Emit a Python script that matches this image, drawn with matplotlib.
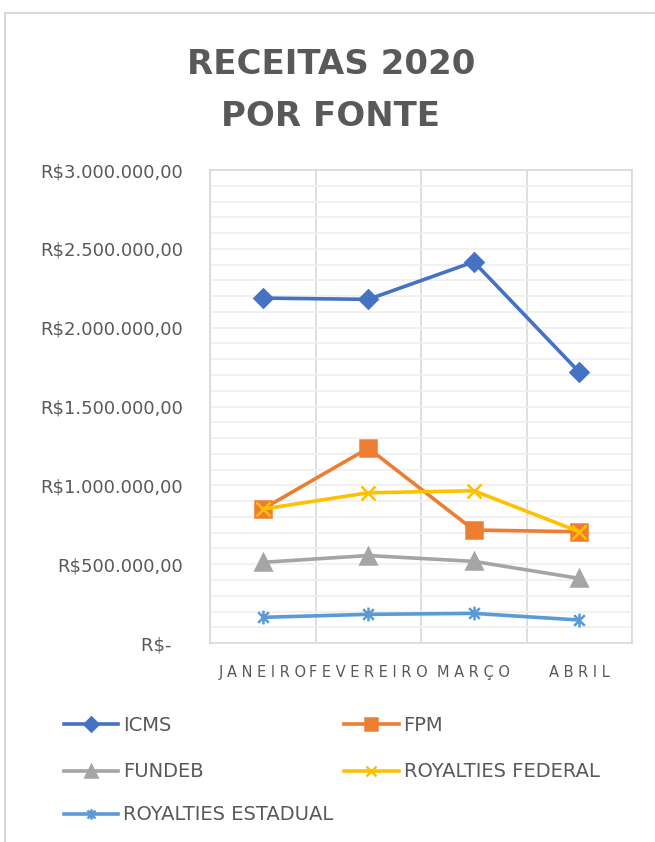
import matplotlib.pyplot as plt
from matplotlib.lines import Line2D
from matplotlib.path import Path
from matplotlib.ticker import MultipleLocator, FuncFormatter

plt.rcParams['font.family'] = ['DejaVu Sans']

meses = ['JANEIRO', 'FEVEREIRO', 'MARÇO', 'ABRIL']

icms = [2188000, 2180000, 2418000, 1718000]
fpm = [850000, 1236000, 717000, 706000]
fundeb = [512000, 555000, 518000, 410000]
royalties_federal = [850000, 953000, 966000, 706000]
royalties_estadual = [163000, 182000, 188000, 146000]

cinza = '#595959'

# asterisco estilo Excel: X com traço vertical
asterisco = Path([(-1, -1), (1, 1), (-1, 1), (1, -1), (0, -1.3), (0, 1.3)],
                 [Path.MOVETO, Path.LINETO, Path.MOVETO, Path.LINETO, Path.MOVETO, Path.LINETO])

series = [
    ('ICMS', icms, '#4472C4', 'D', 9),
    ('FPM', fpm, '#ED7D31', 's', 11),
    ('FUNDEB', fundeb, '#A5A5A5', '^', 11),
    ('ROYALTIES FEDERAL', royalties_federal, '#FFC000', 'x', 10),
    ('ROYALTIES ESTADUAL', royalties_estadual, '#5B9BD5', asterisco, 10),
]

fig = plt.figure(figsize=(6.55, 8.42), dpi=100)
ax = fig.add_axes([0.3206, 0.2363, 0.6444, 0.5617])

x = range(len(meses))
handles = {}
for nome, valores, cor, marc, tam in series:
    h, = ax.plot(x, valores, color=cor, linewidth=2.6, marker=marc, markersize=tam,
                 markeredgewidth=1.8, markeredgecolor=cor, markerfacecolor=cor,
                 label=nome, zorder=3)
    handles[nome] = h

ax.set_xlim(-0.5, len(meses) - 0.5)
ax.set_ylim(0, 3000000)

ax.yaxis.set_major_locator(MultipleLocator(500000))
ax.yaxis.set_minor_locator(MultipleLocator(100000))


def moeda(v, pos):
    if v == 0:
        return 'R$-  '
    s = f'{v:,.2f}'.replace(',', '#').replace('.', ',').replace('#', '.')
    return 'R$' + s


ax.yaxis.set_major_formatter(FuncFormatter(moeda))
ax.set_xticks(list(x))
ax.set_xticklabels([' '.join(m) for m in meses])
ax.set_xticks([i + 0.5 for i in range(-1, len(meses))], minor=True)

ax.grid(which='both', axis='y', color='#efefef', linewidth=1.2, zorder=0)
ax.grid(which='minor', axis='x', color='#d9d9d9', linewidth=1.2, zorder=0)
ax.tick_params(which='both', length=0)
ax.tick_params(axis='y', labelsize=13, labelcolor=cinza, pad=19.4)
ax.tick_params(axis='x', labelsize=10.5, labelcolor=cinza, pad=16)
for s in ax.spines.values():
    s.set_color('#d9d9d9')
    s.set_linewidth(1.2)

fig.text(0.505, 0.8925, 'RECEITAS 2020\nPOR FONTE', ha='center', va='center',
         fontsize=24.5, fontweight='bold', color=cinza, linespacing=1.75)

# borda da área do gráfico
fig.add_artist(Line2D([0.008, 0.008], [0, 0.984], color='#d9d9d9', linewidth=1.5))
fig.add_artist(Line2D([0.008, 1], [0.984, 0.984], color='#d9d9d9', linewidth=1.5))

estilo = dict(frameon=False, fontsize=14, labelcolor=cinza, handlelength=2.8,
              handletextpad=0.26, borderpad=0, borderaxespad=0, labelspacing=1.4,
              markerscale=0.75)
leg1 = fig.legend([handles['ICMS'], handles['FUNDEB'], handles['FPM'], handles['ROYALTIES FEDERAL']],
                  ['ICMS', 'FUNDEB', 'FPM', 'ROYALTIES FEDERAL'], ncol=2, columnspacing=7.2,
                  loc='upper left', bbox_to_anchor=(0.0977, 0.1495), **estilo)
leg2 = fig.legend([handles['ROYALTIES ESTADUAL']], ['ROYALTIES ESTADUAL'],
                  loc='upper left', bbox_to_anchor=(0.0977, 0.0435), **estilo)

fig.savefig('out.png', dpi=100)
